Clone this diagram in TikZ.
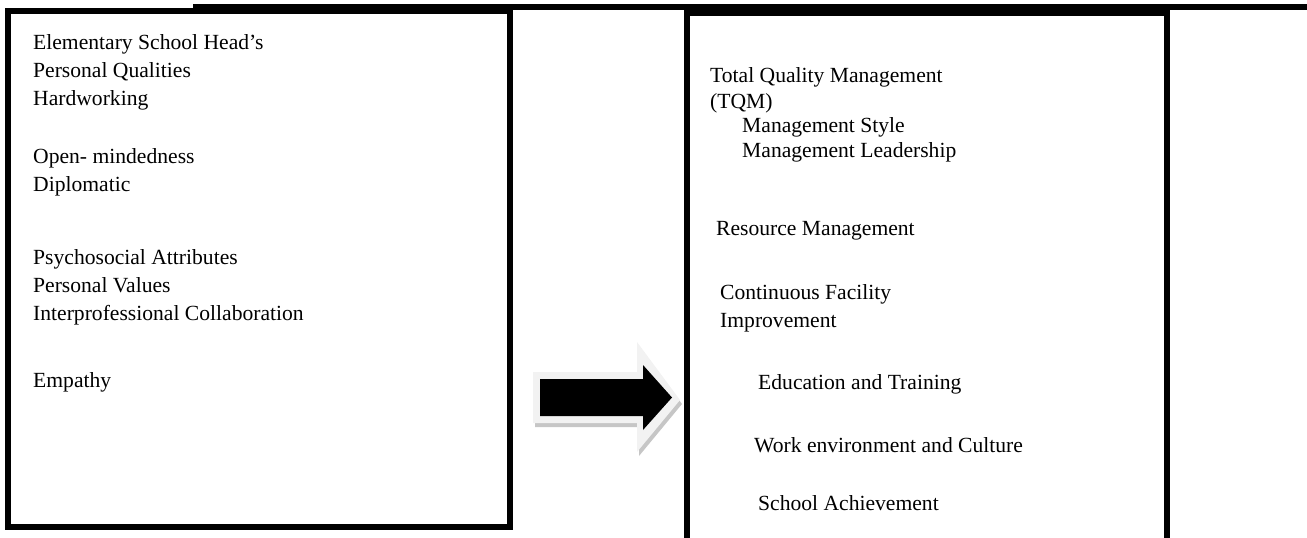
\documentclass[tikz,border=0pt]{standalone}
\usepackage{fontspec}
\setmainfont{Liberation Serif}
\begin{document}
\begin{tikzpicture}[x=1pt,y=-1pt,line join=miter,
  frame/.style={draw=black,line width=6pt,rectangle,inner sep=0pt},
  txt/.style={anchor=base west,inner sep=0pt,font=\fontsize{21.6}{26}\selectfont},
  outline/.style={fill=gray!10,draw=none},
  shadowcol/.style={fill=gray!45,draw=none}]
\useasboundingbox (0,0) rectangle (1307,538);
\clip (0,0) rectangle (1307,538);

% thick rule across the top
\coordinate (barstart) at (193,7);
\coordinate (barend) at (1312,7);
\draw[line width=6pt] (barstart) -- (barend);

% the two frames
\node[frame,minimum width=502pt,minimum height=516pt] (leftbox) at (259,269) {};
\node[frame,minimum width=480pt,minimum height=547pt] (rightbox) at (927,286.5) {};

% block arrow between the frames
\fill[shadowcol] (535,376) -- (639,376) -- (639,346) -- (682,404) -- (639,456) -- (639,427) -- (535,427) -- cycle;
\fill[outline] (533,372) -- (637,372) -- (637,342) -- (680,400) -- (637,452) -- (637,423) -- (533,423) -- cycle;
\fill[black] (540,379) -- (643,379) -- (643,365) -- (672,397.5) -- (643,430) -- (643,416) -- (540,416) -- cycle;

% left column
\node[txt] (l1) at (33,49) {Elementary School Head’s};
\node[txt] (l2) at (33,77) {Personal Qualities};
\node[txt] (l3) at (33,105) {Hardworking};
\node[txt] (l4) at (33,163) {Open- mindedness};
\node[txt] (l5) at (33,191) {Diplomatic};
\node[txt] (l6) at (33,264) {Psychosocial Attributes};
\node[txt] (l7) at (33,292) {Personal Values};
\node[txt] (l8) at (33,320) {Interprofessional Collaboration};
\node[txt] (l9) at (33,387) {Empathy};

% right column
\node[txt] (r1) at (710,82) {Total Quality Management};
\node[txt] (r2) at (710,108) {(TQM)};
\node[txt] (r3) at (742,132) {Management Style};
\node[txt] (r4) at (742,157) {Management Leadership};
\node[txt] (r5) at (716,235) {Resource Management};
\node[txt] (r6) at (720,299) {Continuous Facility};
\node[txt] (r7) at (720,327) {Improvement};
\node[txt] (r8) at (758,389) {Education and Training};
\node[txt] (r9) at (754,452) {Work environment and Culture};
\node[txt] (r10) at (758,510) {School Achievement};
\end{tikzpicture}
\end{document}
